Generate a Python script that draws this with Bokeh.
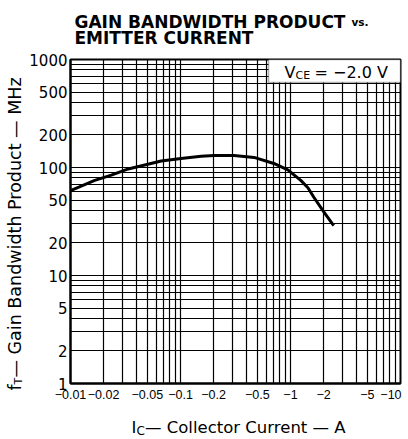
import math
from bokeh.plotting import figure
from bokeh.layouts import column, row
from bokeh.models import FixedTicker, Label, BoxAnnotation
from bokeh.embed import file_html
from bokeh.resources import INLINE

# Collector current magnitude (A) and gain-bandwidth product (MHz)
ic_amps = [0.01, 0.0166, 0.0235, 0.0335, 0.0668, 0.101, 0.154, 0.202, 0.307,
           0.466, 0.706, 0.946, 1.24, 1.44, 1.63, 2.0, 2.47]
ft_mhz = [61, 76, 85, 97, 115, 121, 127, 129, 129,
          124, 109, 95, 76, 65, 53, 39, 29]

x_ticks = [0.01, 0.02, 0.05, 0.1, 0.2, 0.5, 1, 2, 5, 10]
x_tick_labels = ["\u22120.01", "\u22120.02", "\u22120.05", "\u22120.1", "\u22120.2",
                 "\u22120.5", "\u22121", "\u22122", "\u22125", "\u221210\u2007"]
y_ticks = [1, 2, 5, 10, 20, 50, 100, 200, 500, 1000]
y_tick_labels = ["1", "2", "5", "10", "20", "50", "100", "200", "500", "1000"]

grid_x = [m * 10.0 ** k for k in (-2, -1, 0) for m in range(1, 10)] + [10.0]
grid_y = [m * 10.0 ** k for k in (0, 1, 2) for m in range(1, 10)] + [1000.0]

FONT = "DejaVu Sans"
BASE_FIX = 5  # alphabetic baseline correction observed in rendering


def lab(fig, x, y, text, size, bold=False, angle=0.0, align="left", baseline="alphabetic"):
    if baseline == "alphabetic":
        y = y + BASE_FIX
    fig.add_layout(Label(x=x, y=y, x_units="screen", y_units="screen", text=text,
                         text_font=FONT, text_font_size=f"{size}px",
                         text_font_style="bold" if bold else "normal",
                         text_color="black", angle=angle,
                         text_align=align, text_baseline=baseline))


def text_fig(w, h):
    f = figure(width=w, height=h, x_range=(0, 1), y_range=(0, 1),
               x_axis_location=None, y_axis_location=None,
               output_backend="svg", toolbar_location=None,
               min_border_left=0, min_border_right=0, min_border_top=0, min_border_bottom=0)
    f.grid.visible = False
    f.outline_line_color = None
    f.background_fill_color = "white"
    f.border_fill_color = "white"
    return f


# ---------------- main chart ----------------
p = figure(width=382, height=355, x_axis_type="log", y_axis_type="log",
           x_range=(0.01, 10), y_range=(1, 1000),
           output_backend="svg", toolbar_location=None,
           min_border_left=43, min_border_right=8, min_border_top=9, min_border_bottom=22)

p.background_fill_color = "white"
p.border_fill_color = "white"
p.outline_line_color = "black"
p.outline_line_width = 2

p.xgrid.ticker = FixedTicker(ticks=grid_x)
p.ygrid.ticker = FixedTicker(ticks=grid_y)
for g in (p.xgrid, p.ygrid):
    g.grid_line_color = "black"
    g.grid_line_width = 1.2
    g.grid_line_alpha = 1.0

p.xaxis.ticker = FixedTicker(ticks=x_ticks)
p.yaxis.ticker = FixedTicker(ticks=y_ticks)
p.xaxis.major_label_overrides = {t: l for t, l in zip(x_ticks, x_tick_labels)}
p.yaxis.major_label_overrides = {t: l for t, l in zip(y_ticks, y_tick_labels)}
for ax in (p.xaxis, p.yaxis):
    ax.axis_line_color = "black"
    ax.axis_line_width = 2
    ax.major_tick_out = 0
    ax.major_tick_in = 0
    ax.minor_tick_line_color = None
    ax.major_label_text_color = "black"
p.xaxis.major_label_text_font = "Liberation Sans"
p.xaxis.major_label_text_font_size = "12.5px"
p.xaxis.major_label_standoff = 4
p.yaxis.major_label_text_font = FONT
p.yaxis.major_label_text_font_size = "15px"
p.yaxis.major_label_standoff = 3

p.line(ic_amps, ft_mhz, line_color="black", line_width=3)

# V_CE box in the upper right corner of the frame
p.add_layout(BoxAnnotation(left=198, left_units="screen", bottom=301, bottom_units="screen",
                           fill_color="white", fill_alpha=1.0,
                           line_color="black", line_width=1.5))
lab(p, 214, 306, "V", 16)
lab(p, 225, 303, "CE", 11)
lab(p, 244, 306, "= \u22122.0 V", 16)

# ---------------- title (frame aligned with chart frame: page x 69..400) ----------------
t = text_fig(382, 50)
lab(t, 4, 24, "GAIN BANDWIDTH PRODUCT", 17, bold=True)
lab(t, 281, 24, "vs.", 10.5, bold=True)
lab(t, 4, 8, "EMITTER CURRENT", 17, bold=True)

# ---------------- x label (frame aligned with chart frame) ----------------
xl = text_fig(382, 34)
lab(xl, 61, 7, "I", 16.5)
lab(xl, 66, 4, "C", 12)
lab(xl, 74.5, 7, " \u2014 Collector Current \u2014 A", 16.5)

# ---------------- y label (full page height) ----------------
yl = text_fig(26, 439)
ang = math.pi / 2
lab(yl, 14, 49, "f", 17.5, angle=ang, baseline="middle")
lab(yl, 18, 55, "T", 11, angle=ang, baseline="middle")
lab(yl, 14, 62, " \u2014 Gain Bandwidth Product \u2014 MHz", 17.5, angle=ang, baseline="middle")

layout = row(yl, column(t, p, xl))

open("out.html", "w").write(file_html(layout, INLINE))
